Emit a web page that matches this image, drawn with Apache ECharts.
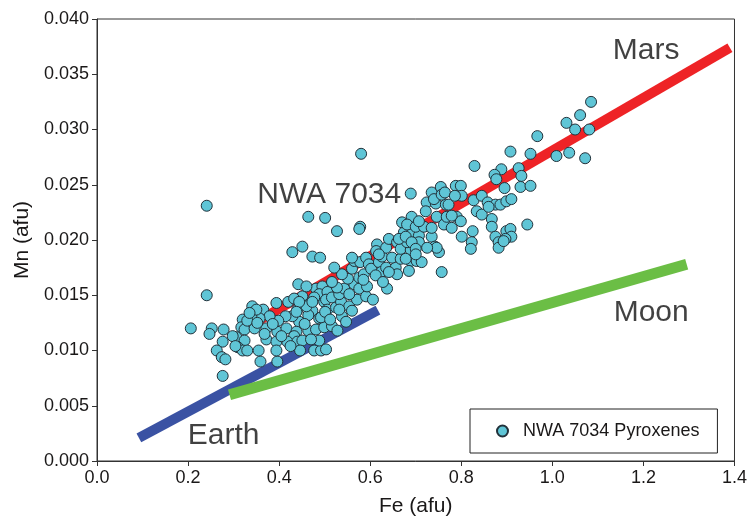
<!DOCTYPE html>
<html><head><meta charset="utf-8">
<script src="https://cdn.jsdelivr.net/npm/echarts/dist/echarts.min.js"></script>
<style>html,body{margin:0;padding:0;background:#fff}#c{width:750px;height:522px}</style>
</head><body><div id="c"></div>
<script>
// Axis ticks
const feTicks = { min: 0, max: 1.4, interval: 0.2 };
const mnTicks = { min: 0, max: 0.040, interval: 0.005 };

// Reference trend lines [Fe, Mn]
const marsLine  = [[0.33, 0.0121], [1.39, 0.0374]];
const earthLine = [[0.092, 0.0021], [0.617, 0.01365]];
const moonLine  = [[0.291, 0.0060], [1.295, 0.0178]];

// NWA 7034 pyroxene analyses [Fe (afu), Mn (afu)]
const pyroxenes = [
 [0.580,0.0278],[0.241,0.0231],[0.241,0.0150],[0.206,0.0120],
 [0.464,0.0221],[0.501,0.0220],[0.527,0.0208],[0.578,0.0212],[0.576,0.0210],
 [0.451,0.0194],[0.429,0.0189],[0.473,0.0185],[0.490,0.0184],[0.442,0.0160],
 [0.252,0.0120],[0.247,0.0115],[0.278,0.0119],[0.276,0.0108],[0.263,0.0100],
 [0.274,0.0094],[0.282,0.0092],[0.276,0.0077],[0.359,0.0090],[0.396,0.0090],
 [0.341,0.0140],[0.365,0.0137],[0.394,0.0143],[0.420,0.0144],[0.451,0.0149],
 [0.433,0.0147],[0.466,0.0142],[0.481,0.0156],[0.495,0.0158],[0.488,0.0151],
 [0.506,0.0153],[0.473,0.0136],[0.488,0.0129],[0.499,0.0144],[0.464,0.0132],
 [0.444,0.0126],[0.429,0.0131],[0.414,0.0131],[0.398,0.0127],[0.379,0.0131],
 [0.357,0.0129],[0.339,0.0131],[0.320,0.0128],[0.317,0.0121],[0.324,0.0119],
 [0.346,0.0120],[0.372,0.0120],[0.396,0.0117],[0.416,0.0120],[0.438,0.0117],
 [0.433,0.0113],[0.464,0.0118],[0.481,0.0119],[0.499,0.0121],[0.306,0.0112],
 [0.324,0.0109],[0.309,0.0103],[0.320,0.0100],[0.330,0.0100],[0.355,0.0100],
 [0.372,0.0110],[0.394,0.0108],[0.394,0.0100],[0.418,0.0108],[0.440,0.0108],
 [0.451,0.0109],[0.446,0.0100],[0.477,0.0100],[0.492,0.0100],[0.503,0.0101],
 [0.488,0.0109],[0.298,0.0113],[0.304,0.0104],[0.330,0.0127],[0.350,0.0137],
 [0.440,0.0137],[0.460,0.0140],
 [0.460,0.0158],[0.477,0.0148],[0.503,0.0146],[0.516,0.0148],[0.506,0.0137],
 [0.492,0.0130],[0.525,0.0139],[0.536,0.0144],[0.554,0.0140],[0.560,0.0136],
 [0.538,0.0131],[0.547,0.0126],[0.516,0.0122],[0.532,0.0151],[0.543,0.0156],
 [0.565,0.0160],[0.576,0.0156],[0.571,0.0146],[0.591,0.0149],[0.606,0.0146],
 [0.637,0.0156],[0.527,0.0157],[0.551,0.0165],[0.576,0.0166],[0.586,0.0169],
 [0.593,0.0158],[0.554,0.0151],[0.538,0.0169],[0.521,0.0175],[0.560,0.0174],
 [0.565,0.0181],[0.578,0.0180],[0.591,0.0184],[0.597,0.0178],[0.602,0.0174],
 [0.619,0.0180],[0.624,0.0171],[0.635,0.0175],[0.656,0.0175],[0.659,0.0169],
 [0.626,0.0185],[0.648,0.0184],[0.667,0.0183],[0.689,0.0181],[0.702,0.0181],
 [0.713,0.0180],[0.685,0.0172],[0.615,0.0196],[0.613,0.0190],[0.635,0.0193],
 [0.641,0.0201],[0.659,0.0198],[0.667,0.0192],[0.689,0.0191],[0.681,0.0198],
 [0.674,0.0207],[0.689,0.0205],[0.707,0.0204],[0.707,0.0198],[0.735,0.0203],
 [0.742,0.0194],[0.751,0.0189],[0.757,0.0171],[0.663,0.0201],[0.619,0.0187],
 [0.641,0.0171],[0.560,0.0184],[0.516,0.0162],[0.444,0.0144],[0.438,0.0135],
 [0.501,0.0135],[0.473,0.0144],[0.532,0.0137],
 [0.724,0.0234],[0.744,0.0233],[0.766,0.0232],[0.722,0.0226],[0.746,0.0221],
 [0.762,0.0214],[0.691,0.0221],[0.670,0.0216],[0.681,0.0214],[0.700,0.0212],
 [0.718,0.0212],[0.735,0.0211],[0.689,0.0242],[0.735,0.0243],[0.755,0.0248],
 [0.740,0.0237],[0.757,0.0241],[0.788,0.0249],[0.799,0.0249],[0.801,0.0240],
 [0.772,0.0232],[0.707,0.0217],[0.790,0.0221],[0.799,0.0217],[0.779,0.0211],
 [0.825,0.0208],[0.823,0.0198],[0.867,0.0219],[0.867,0.0212],[0.875,0.0203],
 [0.882,0.0198],[0.882,0.0193],[0.899,0.0208],[0.908,0.0210],[0.910,0.0203],
 [0.897,0.0201],[0.945,0.0214],[0.801,0.0203],[0.821,0.0192],[0.678,0.0203],
 [0.691,0.0198],[0.700,0.0192],[0.678,0.0183],[0.764,0.0243],[0.827,0.0236],
 [0.845,0.0240],[0.858,0.0234],[0.875,0.0232],[0.886,0.0232],[0.899,0.0235],
 [0.910,0.0237],[0.834,0.0226],[0.845,0.0223],[0.860,0.0230],[0.768,0.0221],
 [0.779,0.0222],[0.893,0.0199],[0.746,0.0193],[0.786,0.0240],
 [0.829,0.0267],[0.908,0.0280],[0.888,0.0264],[0.873,0.0259],[0.877,0.0255],
 [0.926,0.0265],[0.932,0.0258],[0.895,0.0247],[0.930,0.0248],[0.952,0.0249],
 [1.085,0.0325],[1.061,0.0313],[1.031,0.0306],[1.050,0.0300],[1.081,0.0300],
 [0.967,0.0294],[0.952,0.0278],[1.009,0.0276],[1.037,0.0279],[1.072,0.0274],
 [0.335,0.0134],[0.352,0.0125],[0.368,0.0115],[0.386,0.0124],[0.405,0.0113],
 [0.425,0.0104],[0.456,0.0124],[0.470,0.0110],[0.512,0.0128],[0.528,0.0118],
 [0.585,0.0164],[0.612,0.0168],[0.628,0.0162],[0.700,0.0187],[0.725,0.0193]
];

// Text annotations anchored in data space
const annotations = [
 { name: 'Mars', value: [1.206, 0.0371] },
 { name: 'Moon', value: [1.217, 0.0134] },
 { name: 'Earth', value: [0.278, 0.0023] },
 { name: 'NWA 7034', value: [0.510, 0.0241] }
];

const seriesName = 'NWA 7034 Pyroxenes';
const FONT = '"Liberation Sans", Arial, Helvetica, sans-serif';
const TXT = '#1a1818';

const chart = echarts.init(document.getElementById('c'), null, { renderer: 'canvas' });
const axisCommon = {
  type: 'value',
  axisLine: { show: true, lineStyle: { color: '#333', width: 1 } },
  axisTick: { show: true, length: 5, lineStyle: { color: '#333', width: 1 } },
  splitLine: { show: false },
  nameLocation: 'middle',
  nameTextStyle: { fontFamily: FONT, fontSize: 21, color: TXT }
};
chart.setOption({
  animation: false,
  backgroundColor: '#fff',
  grid: { left: 97, top: 19, width: 640, height: 443, show: true, borderColor: '#333', borderWidth: 1 },
  xAxis: Object.assign({}, axisCommon, {
    min: feTicks.min, max: feTicks.max, interval: feTicks.interval,
    name: 'Fe (afu)', nameGap: 35,
    axisLabel: { fontFamily: FONT, fontSize: 18, color: TXT, margin: 8, formatter: v => v.toFixed(1) }
  }),
  yAxis: Object.assign({}, axisCommon, {
    min: mnTicks.min, max: mnTicks.max, interval: mnTicks.interval,
    name: 'Mn (afu)', nameGap: 64,
    axisLabel: { fontFamily: FONT, fontSize: 18, color: TXT, margin: 8, formatter: v => v.toFixed(3) }
  }),
  legend: {
    data: [{ name: seriesName, icon: 'circle' }],
    left: 470, top: 409,
    orient: 'horizontal',
    padding: [13, 18, 13, 26],
    itemWidth: 11, itemHeight: 11,
    borderColor: '#222', borderWidth: 1, borderRadius: 0,
    textStyle: { fontFamily: FONT, fontSize: 18, color: TXT, padding: [0, 0, 0, 10] }
  },
  series: [
    { type: 'line', name: 'Earth', data: earthLine, showSymbol: false, silent: true, z: 2,
      lineStyle: { color: '#3A52A3', width: 10, cap: 'butt' } },
    { type: 'line', name: 'Moon', data: moonLine, showSymbol: false, silent: true, z: 3,
      lineStyle: { color: '#6BBE45', width: 11, cap: 'butt' } },
    { type: 'line', name: 'Mars', data: marsLine, showSymbol: false, silent: true, z: 3,
      lineStyle: { color: '#EE2326', width: 10, cap: 'butt' } },
    { type: 'scatter', name: seriesName, data: pyroxenes, symbol: 'circle', symbolSize: 11, z: 5,
      itemStyle: { color: '#5FC5D6', borderColor: '#22313a', borderWidth: 1, opacity: 1 } },
    { type: 'scatter', name: 'labels', data: annotations, symbolSize: 1, silent: true, z: 6,
      itemStyle: { color: 'rgba(0,0,0,0)' },
      label: { show: true, position: 'inside', formatter: p => p.name,
               fontFamily: FONT, fontSize: 30, color: '#111', textBorderWidth: 0,
               align: 'center', verticalAlign: 'middle' } }
  ]
});
</script></body></html>
